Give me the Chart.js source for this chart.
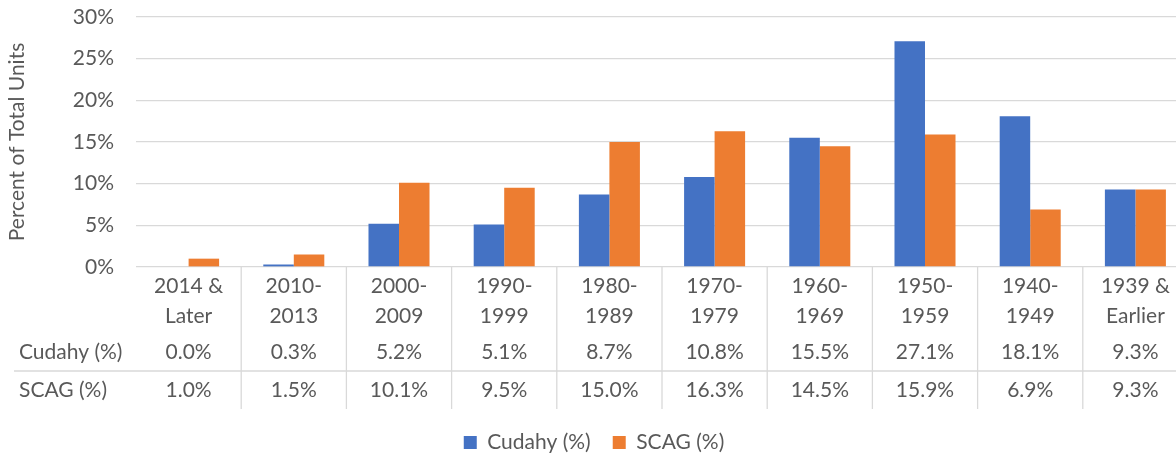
<!DOCTYPE html>
<html>
<head>
<meta charset="utf-8">
<script src="https://cdn.jsdelivr.net/npm/chart.js@4"></script>
<style>
  body { margin: 0; background: #fff; overflow: hidden; }
  #wrap { width: 1190px; height: 456px; position: relative; }
</style>
</head>
<body>
<div id="wrap"><canvas id="Chart"></canvas></div>
<script>
'use strict';
// ********************* DATA ********************
let categories = [
  ['2014 &', 'Later'], ['2010-', '2013'], ['2000-', '2009'], ['1990-', '1999'], ['1980-', '1989'],
  ['1970-', '1979'], ['1960-', '1969'], ['1950-', '1959'], ['1940-', '1949'], ['1939 &', 'Earlier']
];
let cudahyValues = [0.0, 0.3, 5.2, 5.1, 8.7, 10.8, 15.5, 27.1, 18.1, 9.3];
let scagValues = [1.0, 1.5, 10.1, 9.5, 15.0, 16.3, 14.5, 15.9, 6.9, 9.3];
let seriesNames = ['Cudahy (%)', 'SCAG (%)'];
let yMax = 30;
let yStep = 5;

// ********************* STYLE ********************
let textColor = '#595959';
let lineColor = '#D9D9D9';
let fontFamily = 'Lato, "Open Sans", sans-serif';
let fontSize = 21;
let rowY = [352, 390];

// ********************* CANVAS ELEM FOR CHART ********************
let canvasElem = document.getElementById('Chart');

// ********************* DATA TABLE PLUGIN ********************
let dataTable = {
  id: 'dataTable',
  afterDraw(chart) {
    let ctx = chart.ctx;
    let x = chart.scales.x;
    let area = chart.chartArea;
    let colW = (area.right - area.left) / categories.length;
    ctx.save();
    ctx.strokeStyle = lineColor;
    ctx.lineWidth = 1.3;
    // column separators
    for (let i = 1; i <= categories.length; i++) {
      let px = x.getPixelForValue(i) - colW / 2;
      ctx.beginPath();
      ctx.moveTo(px, area.bottom);
      ctx.lineTo(px, 409);
      ctx.stroke();
    }
    // row separator
    ctx.beginPath();
    ctx.moveTo(14, 371);
    ctx.lineTo(chart.width, 371);
    ctx.stroke();

    ctx.fillStyle = textColor;
    ctx.font = fontSize + 'px ' + fontFamily;
    ctx.textBaseline = 'middle';
    chart.data.datasets.forEach((ds, r) => {
      ctx.textAlign = 'left';
      ctx.fillText(ds.label, 19, rowY[r]);
      ctx.textAlign = 'center';
      ds.data.forEach((v, i) => {
        ctx.fillText(v.toFixed(1) + '%', x.getPixelForValue(i), rowY[r]);
      });
    });
    ctx.restore();
  }
};

// ********************* THIS FUNCTION RENDERS THE CHART ********************
function renderChart() {
  let chartObj = {
    type: 'bar',
    data: {
      labels: categories,
      datasets: [{
        label: seriesNames[0],
        data: cudahyValues,
        backgroundColor: '#4472C4',
        categoryPercentage: 0.58,
        barPercentage: 1.0,
      },
      {
        label: seriesNames[1],
        data: scagValues,
        backgroundColor: '#ED7D31',
        categoryPercentage: 0.58,
        barPercentage: 1.0,
      }]
    },
    options: {
      responsive: true,
      maintainAspectRatio: false,
      animation: false,
      layout: { padding: { top: 17, right: 2, left: 0, bottom: -7 } },
      plugins: {
        tooltip: { enabled: false },
        legend: {
          position: 'bottom',
          labels: {
            boxWidth: 13,
            boxHeight: 13,
            padding: 22,
            color: textColor,
            font: { family: fontFamily, size: fontSize }
          }
        }
      },
      scales: {
        y: {
          min: 0,
          max: yMax,
          afterFit(scale) { scale.width = 136; },
          ticks: {
            stepSize: yStep,
            padding: 2,
            color: textColor,
            font: { family: fontFamily, size: fontSize },
            callback: v => v + '%'
          },
          grid: {
            color: lineColor,
            lineWidth: 1.3,
            drawTicks: true,
            tickLength: 20,
            tickColor: 'rgba(0,0,0,0)'
          },
          border: { display: false },
          title: {
            display: true,
            text: 'Percent of Total Units',
            color: textColor,
            font: { family: fontFamily, size: fontSize },
            padding: { top: 5, bottom: 0 }
          }
        },
        x: {
          afterFit(scale) { scale.height = 143; },
          ticks: {
            padding: 4,
            maxRotation: 0,
            autoSkip: false,
            color: textColor,
            font: { family: fontFamily, size: fontSize, lineHeight: 1.45 }
          },
          grid: { display: false, drawTicks: false },
          border: { display: false }
        }
      }
    },
    plugins: [dataTable]
  };
  new Chart(canvasElem, chartObj);
}

// ******************** EXECUTABLE CODE **************************
renderChart();
</script>
</body>
</html>
